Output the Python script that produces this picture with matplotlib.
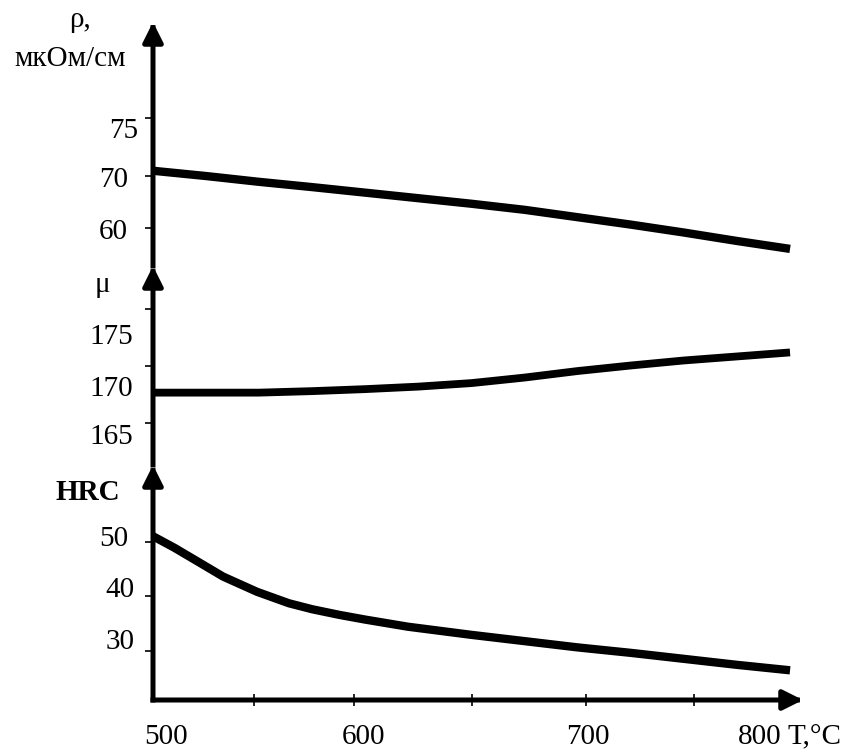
import numpy as np
import matplotlib
matplotlib.use('Agg')
import matplotlib.pyplot as plt

plt.rcParams['font.family'] = ['Liberation Serif', 'DejaVu Serif']

# data
temps = [500, 525, 550, 575, 600, 625, 650, 675, 700, 725, 750, 775, 800]
rho = [70.9, 69.9, 68.8, 67.8, 66.75, 65.7, 64.65, 63.5, 62.1, 60.7, 59.2, 57.6, 56.1]
mu = [170.0, 170.0, 170.0, 170.15, 170.35, 170.6, 170.95, 171.5, 172.15, 172.7, 173.2, 173.6, 174.0]

hrc_temps = [500, 510, 520, 533, 549, 564, 575, 588, 600, 620, 650, 675, 700, 725, 750, 775, 800]
hrc = [51.0, 48.9, 46.6, 43.6, 40.8, 38.7, 37.6, 36.55, 35.7, 34.4, 32.9, 31.75, 30.6, 29.6,
       28.5, 27.4, 26.4]

x_ticks = [500, 600, 700, 800]
x_labels = ['500', '600', '700', '800']
x_marks = [547.6, 594.7, 650.2, 703.9, 754.8]

rho_ticks = [75, 70, 60]
mu_ticks = [175, 170, 165]
mu_marks = [178.3, 172.66, 167.0]
hrc_ticks = [50, 40, 30]

# the rho axis in the original is uneven: 70..75 is drawn longer than 60..70
rho_knots = [40, 60, 71, 75, 100]
rho_pos = [-158.4, -52.8, 5.28, 57.2, 343.2]


def rho_fwd(v):
    return np.interp(v, rho_knots, rho_pos)


def rho_inv(p):
    return np.interp(p, rho_pos, rho_knots)


W, H = 853, 751
fig = plt.figure(figsize=(W / 100, H / 100), dpi=100)
left = 153 / W
width = (803 - 153) / W
ax1 = fig.add_axes([left, 1 - 266 / H, width, (266 - 22) / H])
ax2 = fig.add_axes([left, 1 - 465 / H, width, (465 - 266) / H])
ax3 = fig.add_axes([left, 1 - 700 / H, width, (700 - 465) / H])

FS = 21
LW = 3.6


def axis_arrow(ax, end):
    ax.annotate('', xy=end, xytext=(0, 0), xycoords='axes fraction',
                arrowprops=dict(arrowstyle='-|>,head_length=12,head_width=6',
                                mutation_scale=1, lw=LW, color='black',
                                shrinkA=0, shrinkB=0, capstyle='projecting'))


def y_labels(ax, vals, texts, dx, dy):
    for v, t, ox, oy in zip(vals, texts, dx, dy):
        ax.annotate(t, xy=(0, v), xycoords=('axes fraction', 'data'),
                    xytext=(ox * 0.72, oy * 0.72), textcoords='offset points',
                    ha='right', va='center', fontsize=FS, annotation_clip=False)


for ax in (ax1, ax2, ax3):
    ax.set_facecolor('none')
    for s in ax.spines.values():
        s.set_visible(False)
    ax.set_xlim(500, 806.1)
    ax.tick_params(axis='y', labelleft=False, direction='out', length=6, width=1.2)
    axis_arrow(ax, (0, 1))

ax1.set_xticks([])
ax2.set_xticks([])

ax1.plot(temps, rho, color='black', lw=6, solid_capstyle='butt', solid_joinstyle='round')
ax1.set_yscale('function', functions=(rho_fwd, rho_inv))
ax1.set_ylim(52.86, 83.42)
ax1.set_yticks(rho_ticks)
ax1.minorticks_off()
y_labels(ax1, rho_ticks, [str(v) for v in rho_ticks], [-15, -25, -25], [-12.7, -4.5, -3.7])

ax2.plot(temps, mu, color='black', lw=5.6, solid_capstyle='butt', solid_joinstyle='round')
ax2.set_ylim(162.8, 182.6)
ax2.set_yticks(mu_marks)
y_labels(ax2, mu_ticks, [str(v) for v in mu_ticks], [-20, -20, -20], [5.5, 3.7, 5.5])

ax3.plot(hrc_temps, hrc, color='black', lw=6, solid_capstyle='butt', solid_joinstyle='round')
ax3.set_ylim(20.95, 64.07)
ax3.set_yticks(hrc_ticks)
y_labels(ax3, hrc_ticks, [str(v) for v in hrc_ticks], [-25, -18, -18], [2.7, 6.2, 8.7])

axis_arrow(ax3, (1, 0))
ax3.set_xticks(x_marks)
ax3.tick_params(axis='x', labelbottom=False, direction='inout', length=8, width=1.2)
for v, t, ox in zip(x_ticks, x_labels, [13, -2, 10, -30]):
    ax3.annotate(t, xy=(v, 0), xycoords=('data', 'axes fraction'),
                 xytext=(ox * 0.72, -37 * 0.72), textcoords='offset points',
                 ha='center', va='center', fontsize=FS, annotation_clip=False)
ax3.annotate('T,°C', xy=(1, 0), xycoords='axes fraction',
             xytext=(-15 * 0.72, -37 * 0.72), textcoords='offset points',
             ha='left', va='center', fontsize=FS, annotation_clip=False)

fig.text(80 / W, 1 - 27 / H, 'ρ,', ha='center', va='baseline', fontsize=FS)
fig.text(70 / W, 1 - 66 / H, 'мкОм/см', ha='center', va='baseline', fontsize=FS)
fig.text(102 / W, 1 - 292 / H, 'μ', ha='center', va='baseline', fontsize=FS)
fig.text(88 / W, 1 - 500 / H, 'HRC', ha='center', va='baseline', fontsize=FS,
         fontweight='bold')

fig.savefig('out.png', dpi=100)
